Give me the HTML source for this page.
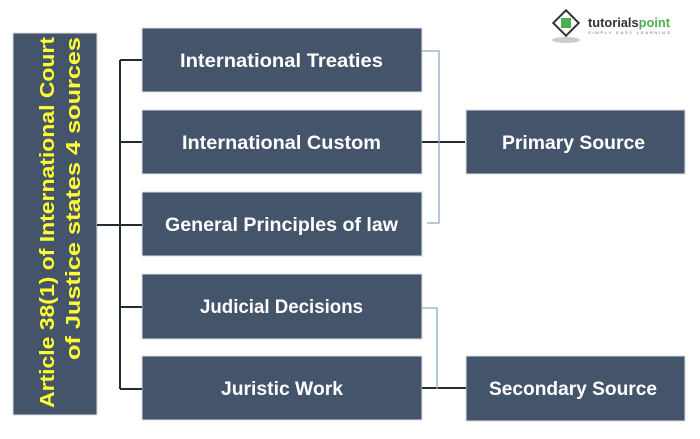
<!DOCTYPE html>
<html><head><style>html,body{margin:0;padding:0;background:#fff}svg{display:block}</style></head>
<body>
<svg width="700" height="439" viewBox="0 0 700 439" xmlns="http://www.w3.org/2000/svg" font-family="Liberation Sans, sans-serif" font-weight="bold">
<g fill="#44546a" stroke="#d9dde3" stroke-width="1">
<rect x="13" y="33" width="84" height="382"/>
<rect x="142" y="28" width="280" height="64"/>
<rect x="142" y="110" width="280" height="64"/>
<rect x="142" y="192" width="280" height="64"/>
<rect x="142" y="274" width="280" height="65"/>
<rect x="142" y="356" width="280" height="64"/>
<rect x="466" y="110" width="219" height="64"/>
<rect x="466" y="356" width="219" height="65"/>
</g>
<g stroke="#222b36" stroke-width="2" fill="none">
<path d="M97 225H120M120 60V389M120 60H142M120 142H142M120 225H142M120 307H142M120 389H142"/>
<path d="M422 142H465M422 388H466"/>
</g>
<g stroke="#8eaac4" stroke-width="1.3" fill="none">
<path d="M422 51H439V223H427"/>
<path d="M422 308H437V389"/>
</g>
<g fill="#ffff33" font-size="20">
<text transform="translate(54,408) rotate(-90)" textLength="371" lengthAdjust="spacingAndGlyphs">Article 38(1) of International Court</text>
<text transform="translate(80,360) rotate(-90)" textLength="323" lengthAdjust="spacingAndGlyphs">of Justice states 4 sources</text>
</g>
<g fill="#fff" font-size="19">
<text x="180" y="67" textLength="203" lengthAdjust="spacingAndGlyphs">International Treaties</text>
<text x="182" y="149" textLength="199" lengthAdjust="spacingAndGlyphs">International Custom</text>
<text x="165" y="231" textLength="233" lengthAdjust="spacingAndGlyphs">General Principles of law</text>
<text x="200" y="313" textLength="163" lengthAdjust="spacingAndGlyphs">Judicial Decisions</text>
<text x="221" y="395" textLength="122" lengthAdjust="spacingAndGlyphs">Juristic Work</text>
<text x="502" y="149" textLength="143" lengthAdjust="spacingAndGlyphs">Primary Source</text>
<text x="489" y="395" textLength="168" lengthAdjust="spacingAndGlyphs">Secondary Source</text>
</g>
<g>
<ellipse cx="566" cy="40" rx="14" ry="3" fill="#ccc"/>
<rect x="557" y="14" width="18" height="18" transform="rotate(45 566 23)" fill="#fff" stroke="#333" stroke-width="2"/>
<rect x="561" y="18" width="10" height="10" fill="#4caf50"/>
<text x="588" y="27" font-size="13" fill="#333" textLength="82" lengthAdjust="spacingAndGlyphs">tutorials<tspan fill="#4caf50">point</tspan></text>
<text x="588" y="34" font-size="4" font-weight="normal" fill="#666" textLength="82" lengthAdjust="spacing">SIMPLY EASY LEARNING</text>
</g>
</svg>
</body></html>
